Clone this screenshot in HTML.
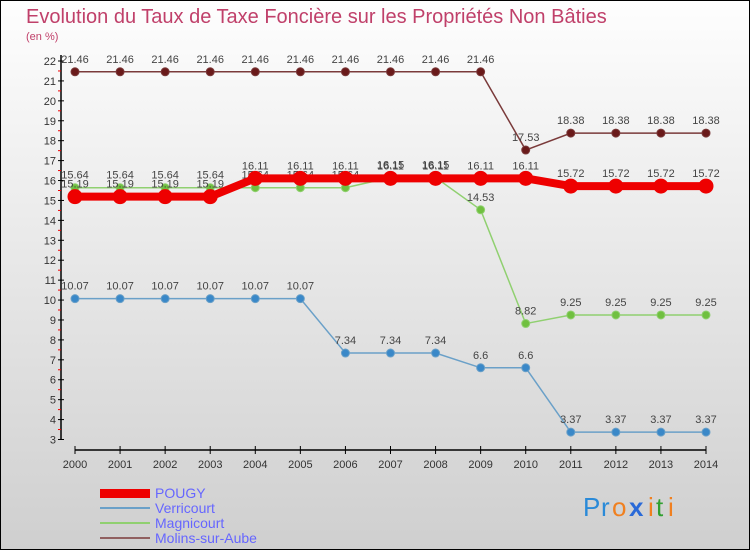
<!DOCTYPE html>
<html><head><meta charset="utf-8"><style>
body{margin:0;width:750px;height:550px;overflow:hidden}
svg{display:block;font-family:"Liberation Sans",sans-serif}
</style></head><body>
<svg id="c" width="750" height="550">
<defs><linearGradient id="bg" x1="0" y1="0" x2="0" y2="1"><stop offset="0" stop-color="#fefefe"/><stop offset="1" stop-color="#cfcfcf"/></linearGradient></defs>
<rect x="0.5" y="0.5" width="749" height="549" fill="url(#bg)" stroke="#000"/>
<text x="26" y="23" font-size="20" fill="#c0406a">Evolution du Taux de Taxe Foncière sur les Propriétés Non Bâties</text>
<text x="26" y="40" font-size="11" fill="#c0406a">(en %)</text>
<g id="axes"></g><g id="series"></g>
<g>
<rect x="100" y="489" width="50" height="9" fill="#e00"/>
<text x="155" y="498" font-size="14" fill="#6666ff">POUGY</text>
<line x1="100" y1="508" x2="150" y2="508" stroke="#6aa0c8" stroke-width="2"/>
<text x="155" y="513" font-size="14" fill="#6666ff">Verricourt</text>
<line x1="100" y1="523" x2="150" y2="523" stroke="#90d070" stroke-width="2"/>
<text x="155" y="528" font-size="14" fill="#6666ff">Magnicourt</text>
<line x1="100" y1="538" x2="150" y2="538" stroke="#906060" stroke-width="2"/>
<text x="155" y="543" font-size="14" fill="#6666ff">Molins-sur-Aube</text>
</g>
<g font-size="26">
<text x="583" y="516" fill="#2a8ad8">P</text><text x="601" y="516" fill="#2a8ad8">r</text><text x="612" y="516" fill="#f08020">o</text><text x="629" y="516" fill="#2a6ad8" font-weight="bold">x</text><text x="648" y="516" fill="#f08020">i</text><text x="656" y="516" fill="#30a030">t</text><text x="668" y="516" fill="#f08020">i</text>
</g>
</svg>
<script>
const years=[2000,2001,2002,2003,2004,2005,2006,2007,2008,2009,2010,2011,2012,2013,2014];
const yTicks=[3,4,5,6,7,8,9,10,11,12,13,14,15,16,17,18,19,20,21,22];
const pougy=[15.19,15.19,15.19,15.19,16.11,16.11,16.11,16.11,16.11,16.11,16.11,15.72,15.72,15.72,15.72];
const verricourt=[10.07,10.07,10.07,10.07,10.07,10.07,7.34,7.34,7.34,6.6,6.6,3.37,3.37,3.37,3.37];
const magnicourt=[15.64,15.64,15.64,15.64,15.64,15.64,15.64,16.15,16.15,14.53,8.82,9.25,9.25,9.25,9.25];
const molins=[21.46,21.46,21.46,21.46,21.46,21.46,21.46,21.46,21.46,21.46,17.53,18.38,18.38,18.38,18.38];
const NS='http://www.w3.org/2000/svg';
const X=i=>75+i*(706-75)/(years.length-1);
const Y=v=>439.5-(v-3)*(439.5-61)/19;
function mk(p,t,a){const e=document.createElementNS(NS,t);for(const k in a)e.setAttribute(k,a[k]);p.appendChild(e);return e;}
const ax=document.getElementById('axes');
let l=mk(ax,'line',{x1:61,y1:55,x2:61,y2:440,stroke:'#000','stroke-width':1.5});


l=mk(ax,'line',{x1:75,y1:450,x2:706,y2:450,stroke:'#000','stroke-width':1.5});


yTicks.forEach(v=>{
 mk(ax,'line',{x1:58,y1:Y(v),x2:64,y2:Y(v),stroke:'#000'});
 if(v<22)mk(ax,'line',{x1:58,y1:Y(v+0.5),x2:61,y2:Y(v+0.5),stroke:'#e00'});
 const t=mk(ax,'text',{x:56,y:Y(v)+4,'font-size':11,'text-anchor':'end',fill:'#333'});
 t.textContent=v;
 
 
});
years.forEach((y,i)=>{
 mk(ax,'line',{x1:X(i),y1:446,x2:X(i),y2:454,stroke:'#000'});
 const t=mk(ax,'text',{x:X(i),y:468,'font-size':11,'text-anchor':'middle',fill:'#333'});
 t.textContent=y;
 
 
});
const sg=document.getElementById('series');
function draw(vals,name,col,w,r,dot){
 const g=mk(sg,'g',{});
 
 
 const ln=mk(g,'polyline',{points:vals.map((v,i)=>X(i)+','+Y(v)).join(' '),fill:'none',stroke:col,'stroke-width':w});
 
 
 vals.forEach((v,i)=>{
  const c=mk(g,'circle',{cx:X(i),cy:Y(v),r:r,fill:dot,stroke:col,'stroke-width':1});
  
  
  const t=mk(g,'text',{x:X(i),y:Y(v)-9,'font-size':11,'text-anchor':'middle',fill:'#444'});
  t.textContent=v;
  
  
 });
}
draw(molins,'molins','#7a3a3a',1.5,4,'#6a1a1a');
draw(verricourt,'verricourt','#6aa0c8',1.5,4,'#3a88c8');
draw(magnicourt,'magnicourt','#90d070',1.5,4,'#70c040');
draw(pougy,'pougy','#e00',8,7,'#e00');
</script>
</body></html>
